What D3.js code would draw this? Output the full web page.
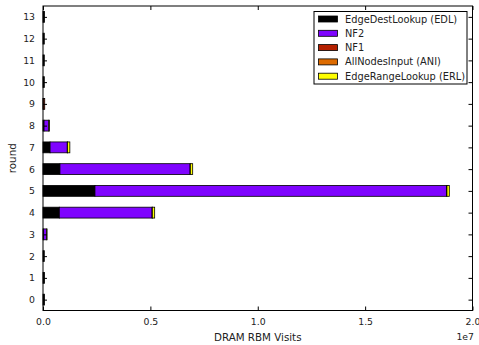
<!DOCTYPE html>
<html>
<head>
<meta charset="utf-8">
<script src="https://cdn.jsdelivr.net/npm/d3@7"></script>
<style>
  body { margin: 0; background: #fff; }
  svg { font-family: "DejaVu Sans", sans-serif; }
</style>
</head>
<body>
<div id="chart"></div>
<script>
// data (values in units of 1e6 visits)
const rounds = [0, 1, 2, 3, 4, 5, 6, 7, 8, 9, 10, 11, 12, 13];
const seriesNames = ['EdgeDestLookup (EDL)', 'NF2', 'NF1', 'AllNodesInput (ANI)', 'EdgeRangeLookup (ERL)'];
const seriesColors = ['#000000', '#7f04ff', '#b42000', '#dd6b00', '#ffff00'];
const edl = [0.07, 0.07, 0.06, 0.03, 0.76, 2.42, 0.79, 0.33, 0.05, 0.01, 0.06, 0.06, 0.06, 0.07];
const nf2 = [0, 0, 0, 0.14, 4.32, 16.37, 6.06, 0.80, 0.22, 0, 0, 0, 0, 0];
const nf1 = [0, 0, 0, 0, 0, 0, 0, 0, 0, 0.07, 0, 0, 0, 0];
const ani = [0, 0, 0, 0, 0.01, 0.02, 0.01, 0.01, 0, 0, 0, 0, 0, 0];
const erl = [0, 0, 0, 0.02, 0.11, 0.11, 0.11, 0.11, 0.03, 0, 0, 0, 0, 0];
const xTicks = [0, 0.5, 1.0, 1.5, 2.0]; // x 1e7

const width = 479, height = 345;
const margin = { top: 6, right: 6.5, bottom: 34.5, left: 43 };
const plotW = width - margin.left - margin.right;
const plotH = height - margin.top - margin.bottom;
const tickFont = 9.3, labelFont = 10.3, legendFont = 9.8;

const svg = d3.select('#chart').append('svg')
  .attr('width', width).attr('height', height);

const x = d3.scaleLinear().domain([0, 20]).range([margin.left, margin.left + plotW]);
const y = d3.scaleLinear().domain([-0.5, 13.5]).range([margin.top + plotH, margin.top]);
const barH = (y(0) - y(0.5));

// stack the series
const series = [edl, nf2, nf1, ani, erl];
const rows = rounds.map((r, i) => {
  const row = { round: r };
  seriesNames.forEach((n, k) => { row[n] = series[k][i]; });
  return row;
});
const stacked = d3.stack().keys(seriesNames)(rows);

const g = svg.append('g');
stacked.forEach((layer, k) => {
  g.selectAll('rect.s' + k)
    .data(layer.filter(d => d[1] - d[0] > 0))
    .enter().append('rect')
    .attr('class', 's' + k)
    .attr('x', d => x(d[0]))
    .attr('y', d => y(d.data.round) - barH / 2)
    .attr('width', d => x(d[1]) - x(d[0]))
    .attr('height', barH)
    .attr('fill', seriesColors[k])
    .attr('stroke', '#000')
    .attr('stroke-width', 0.8);
});

// axes (ticks inward, on all sides)
const tickLen = 4;
const xAxisB = d3.axisBottom(x).tickValues(xTicks.map(v => v * 10))
  .tickFormat(d => (d / 10).toFixed(1)).tickSizeInner(-tickLen).tickSizeOuter(0).tickPadding(8);
const xAxisT = d3.axisTop(x).tickValues(xTicks.map(v => v * 10))
  .tickFormat('').tickSizeInner(-tickLen).tickSizeOuter(0);
const yAxisL = d3.axisLeft(y).tickValues(rounds).tickFormat(d3.format('d'))
  .tickSizeInner(-tickLen).tickSizeOuter(0).tickPadding(8);
const yAxisR = d3.axisRight(y).tickValues(rounds).tickFormat('')
  .tickSizeInner(-tickLen).tickSizeOuter(0);

function style(sel) {
  sel.select('.domain').remove();
  sel.selectAll('line').attr('stroke', '#000').attr('stroke-width', 1);
  sel.selectAll('text').attr('font-size', tickFont).attr('fill', '#222')
    .attr('font-family', '"DejaVu Sans", sans-serif');
}
svg.append('g').attr('transform', `translate(0,${margin.top + plotH})`).call(xAxisB).call(style);
svg.append('g').attr('transform', `translate(0,${margin.top})`).call(xAxisT).call(style);
svg.append('g').attr('transform', `translate(${margin.left},0)`).call(yAxisL).call(style);
svg.append('g').attr('transform', `translate(${margin.left + plotW},0)`).call(yAxisR).call(style);

// frame
svg.append('rect')
  .attr('x', margin.left).attr('y', margin.top)
  .attr('width', plotW).attr('height', plotH)
  .attr('fill', 'none').attr('stroke', '#000').attr('stroke-width', 1);

// labels
svg.append('text').attr('x', x(10)).attr('y', 341)
  .attr('text-anchor', 'middle').attr('font-size', labelFont).attr('fill', '#222')
  .text('DRAM RBM Visits');
svg.append('text').attr('x', 474).attr('y', 339.5)
  .attr('text-anchor', 'end').attr('font-size', tickFont).attr('fill', '#222')
  .text('1e7');
svg.append('text')
  .attr('transform', `translate(16,${margin.top + plotH / 2}) rotate(-90)`)
  .attr('text-anchor', 'middle').attr('font-size', labelFont).attr('fill', '#222')
  .text('round');

// legend
const leg = svg.append('g').attr('transform', 'translate(314,11.5)');
leg.append('rect').attr('width', 153).attr('height', 72.5)
  .attr('fill', '#fff').attr('stroke', '#000').attr('stroke-width', 1);
seriesNames.forEach((n, k) => {
  const cy = 7.5 + k * 14.3;
  leg.append('rect').attr('x', 4.5).attr('y', cy - 3).attr('width', 19).attr('height', 6)
    .attr('fill', seriesColors[k]).attr('stroke', '#000').attr('stroke-width', 0.8);
  leg.append('text').attr('x', 31).attr('y', cy + 3.5)
    .attr('font-size', legendFont).attr('fill', '#222').text(n);
});
</script>
</body>
</html>
